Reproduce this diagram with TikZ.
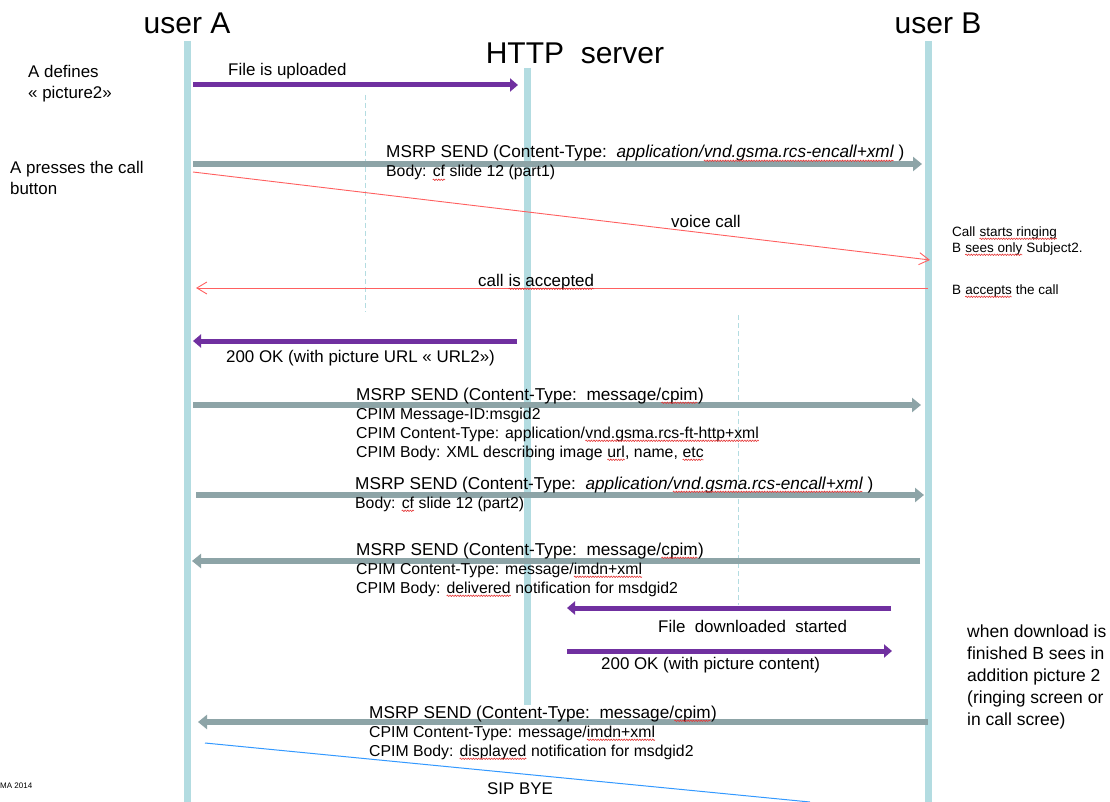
\documentclass[tikz,border=0pt]{standalone}
\usepackage{fontspec}
\setmainfont{Liberation Sans}
\usetikzlibrary{arrows.meta,decorations.pathmorphing}
\definecolor{life}{HTML}{B3DCE1}
\definecolor{purp}{HTML}{7030A0}
\definecolor{grayarr}{HTML}{8DA4A7}
\definecolor{redl}{HTML}{FF6060}
\definecolor{bluel}{HTML}{3399FF}
\definecolor{sqred}{HTML}{E53535}
\newcommand\sq[1]{\tikz[baseline=(sqw.base)]{\node[inner sep=0pt,outer sep=0pt,anchor=base](sqw){#1};\draw[sqred,line width=0.6pt,decorate,decoration={snake,amplitude=0.7pt,segment length=2.6pt}]([yshift=-2.8pt]sqw.base west)--([yshift=-2.8pt]sqw.base east);}}
\newcommand\headline[1]{{\fontsize{17.2}{19}\selectfont #1}}
\tikzset{
  lifeline/.style={line width=7pt, draw=life},
  dashline/.style={draw=life, line width=0.9pt, dash pattern=on 5pt off 3pt},
  purparrow/.style={draw=purp, line width=5pt, -{Triangle[width=13pt,length=8pt]}},
  grayarrow/.style={draw=grayarr, line width=6pt, -{Triangle[width=14pt,length=9pt]}},
  redarrow/.style={draw=redl, line width=0.9pt, -{Straight Barb[width=12pt,length=10pt]}},
  byeline/.style={draw=bluel, line width=1pt},
  title/.style={font=\fontsize{30}{36}\selectfont, anchor=base, inner sep=0pt},
  msg/.style={font=\fontsize{15.8}{19}\selectfont, align=left, anchor=base west, inner sep=0pt},
  note/.style={font=\fontsize{16.9}{21}\selectfont, align=left, anchor=base west, inner sep=0pt},
  smallnote/.style={font=\fontsize{13.5}{16}\selectfont, align=left, anchor=base west, inner sep=0pt},
  bignote/.style={font=\fontsize{17.5}{22}\selectfont, align=left, anchor=base west, inner sep=0pt},
  tiny/.style={font=\fontsize{8}{9}\selectfont, anchor=base west, inner sep=0pt}
}
\begin{document}
\begin{tikzpicture}[x=1pt,y=-1pt]
\useasboundingbox[fill=white] (0,0) rectangle (1110,802);
% lifelines
\coordinate (Atop) at (187,41); \coordinate (Abot) at (187,802);
\coordinate (Stop) at (527,68); \coordinate (Sbot) at (527,705);
\coordinate (Btop) at (928,41); \coordinate (Bbot) at (928,802);
\draw[lifeline] (Atop) -- (Abot);
\draw[lifeline] (Stop) -- (Sbot);
\draw[lifeline] (Btop) -- (Bbot);
\coordinate (d1a) at (365,95); \coordinate (d1b) at (365,312);
\coordinate (d2a) at (738,315); \coordinate (d2b) at (738,605);
\draw[dashline] (d1a) -- (d1b);
\draw[dashline] (d2a) -- (d2b);
% titles
\node[title] (tA) at (187,34) {user A};
\node[title] (tS) at (575,64) {HTTP\ \ server};
\node[title] (tB) at (938,34) {user B};
% message end points
\coordinate (m1a) at (193,85);  \coordinate (m1b) at (518,85);
\coordinate (m2a) at (193,164); \coordinate (m2b) at (922,164);
\coordinate (m3a) at (193,172); \coordinate (m3b) at (930,260);
\coordinate (m4a) at (928,288); \coordinate (m4b) at (196,288);
\coordinate (m5a) at (517,341); \coordinate (m5b) at (193,341);
\coordinate (m6a) at (193,405); \coordinate (m6b) at (921,405);
\coordinate (m7a) at (196,495); \coordinate (m7b) at (924,495);
\coordinate (m8a) at (920,561); \coordinate (m8b) at (192,561);
\coordinate (m9a) at (891,608); \coordinate (m9b) at (567,608);
\coordinate (m10a) at (567,651); \coordinate (m10b) at (892,651);
\coordinate (m11a) at (928,722); \coordinate (m11b) at (198,722);
\coordinate (m12a) at (205,743); \coordinate (m12b) at (810,802);
\draw[purparrow] (m1a) -- (m1b);
\draw[grayarrow] (m2a) -- (m2b);
\draw[redarrow] (m3a) -- (m3b);
\draw[redarrow] (m4a) -- (m4b);
\draw[purparrow] (m5a) -- (m5b);
\draw[grayarrow] (m6a) -- (m6b);
\draw[grayarrow] (m7a) -- (m7b);
\draw[grayarrow] (m8a) -- (m8b);
\draw[purparrow] (m9a) -- (m9b);
\draw[purparrow] (m10a) -- (m10b);
\draw[grayarrow] (m11a) -- (m11b);
\draw[byeline] (m12a) -- (m12b);
% labels (anchor = baseline of the last line)
\node[note] (l1) at (228,76) {File is uploaded};
\node[msg] (l2) at (386,177) {\headline{MSRP SEND (Content-Type:\ \ \textit{application/\sq{vnd.gsma.rcs-encall+xml}} )}\\Body: \sq{cf} slide 12 (part1)};
\node[note] (l3) at (671,228) {voice call};
\node[note] (l4) at (478,286) {call \sq{is accepted}};
\node[note] (l5) at (226,362) {200 OK (with picture URL « URL2»)};
\node[msg] (l6) at (356,457) {\headline{MSRP SEND (Content-Type:\ \ message/\sq{cpim})}\\CPIM Message-ID:msgid2\\CPIM Content-Type: application/\sq{vnd.gsma.rcs-ft-http+xml}\\CPIM Body: XML describing image \sq{url}, name, \sq{etc}};
\node[msg] (l7) at (355,508) {\headline{MSRP SEND (Content-Type:\ \ \textit{application/\sq{vnd.gsma.rcs-encall+xml}} )}\\Body: \sq{cf} slide 12 (part2)};
\node[msg] (l8) at (356,593) {\headline{MSRP SEND (Content-Type:\ \ message/\sq{cpim})}\\CPIM Content-Type: message/\sq{imdn+xml}\\CPIM Body: \sq{delivered} notification for msdgid2};
\node[note] (l9) at (658,632) {File\ \ downloaded\ \ started};
\node[note] (l10) at (601,669) {200 OK (with picture content)};
\node[msg] (l11) at (369,756) {\headline{MSRP SEND (Content-Type:\ \ message/\sq{cpim})}\\CPIM Content-Type: message/\sq{imdn+xml}\\CPIM Body: \sq{displayed} notification for msdgid2};
\node[note] (l12) at (487,794) {SIP BYE};
% side notes
\node[note] (n1) at (28,99) {A defines\\« picture2»};
\node[note] (n2) at (10,195) {A presses the call\\button};
\node[smallnote] (n3) at (952,252) {Call \sq{starts ringing}\\B \sq{sees only} Subject2.};
\node[smallnote] (n4) at (952,294) {B \sq{accepts} the call};
\node[bignote] (n5) at (967,725) {when download is\\finished B sees in\\addition picture 2\\(ringing screen or\\in call scree)};
\node[tiny] (n6) at (0,788) {MA 2014};
\end{tikzpicture}
\end{document}
